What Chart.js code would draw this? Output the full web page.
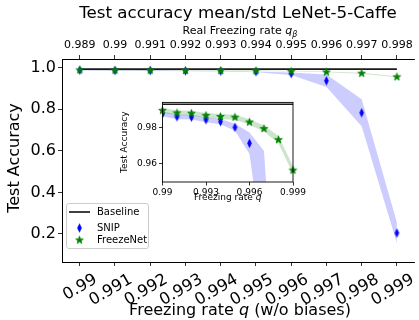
<!DOCTYPE html>
<html><head><meta charset="utf-8">
<script src="https://cdn.jsdelivr.net/npm/chart.js@4/dist/chart.umd.min.js"></script>
<style>
html,body{margin:0;padding:0;background:#fff;}
#wrap{position:relative;width:419px;height:320px;overflow:hidden;background:#fff;}
#main{position:absolute;left:0;top:0;}
#inset{position:absolute;left:110px;top:95px;}
#legend{position:absolute;left:66px;top:203px;width:83px;height:46px;box-sizing:border-box;border:1px solid #cccccc;border-radius:3px;background:rgba(255,255,255,0.8);font-family:"DejaVu Sans";font-size:10px;color:#000;}
#legend .row{position:absolute;left:0;height:14px;line-height:14px;white-space:nowrap;}
#legend canvas{position:absolute;left:1px;top:0;}
#legend span{position:absolute;left:30px;top:0;}
</style></head><body>
<div id="wrap">
<canvas id="main" width="419" height="320"></canvas>
<canvas id="inset" width="200" height="115"></canvas>
<div id="legend"></div>
</div>
<script>
// ---- data ----
const freezingRates = [0.99, 0.991, 0.992, 0.993, 0.994, 0.995, 0.996, 0.997, 0.998, 0.999];
const realFreezingRates = [0.989, 0.99, 0.991, 0.992, 0.993, 0.994, 0.995, 0.996, 0.997, 0.998];
const accuracyTicks = [0.2, 0.4, 0.6, 0.8, 1.0];
const insetRateTicks = [0.99, 0.993, 0.996, 0.999];
const insetAccuracyTicks = [0.96, 0.98];
const seriesNames = ['Baseline', 'SNIP', 'FreezeNet'];
const baselineAcc = [0.993, 0.993, 0.993, 0.993, 0.993, 0.993, 0.993, 0.993, 0.993, 0.993];
const snipMean = [0.9876, 0.9860, 0.9858, 0.9844, 0.9833, 0.9802, 0.9713, 0.937, 0.783, 0.205];
const snipStd  = [0.0013, 0.0013, 0.0013, 0.0014, 0.0015, 0.0020, 0.0060, 0.030, 0.065, 0.050];
const freezeMean = [0.9896, 0.9882, 0.9880, 0.9868, 0.9862, 0.9858, 0.9831, 0.9795, 0.9733, 0.9564];
const freezeStd  = [0.0013, 0.0013, 0.0013, 0.0013, 0.0014, 0.0014, 0.0015, 0.0017, 0.0021, 0.0022];

Chart.defaults.font.family = '"DejaVu Sans"';
Chart.defaults.color = '#000';

const snipUpper = snipMean.map((m, i) => m + snipStd[i]);
const snipLower = snipMean.map((m, i) => m - snipStd[i]);
const freezeUpper = freezeMean.map((m, i) => m + freezeStd[i]);
const freezeLower = freezeMean.map((m, i) => m - freezeStd[i]);
const pts = vals => freezingRates.map((x, i) => ({x: x, y: vals[i]}));

function diamondImg() {
  const c = document.createElement('canvas'); c.width = 7; c.height = 11;
  const g = c.getContext('2d');
  g.beginPath(); g.moveTo(3.5, 1.5); g.lineTo(5.4, 5.5); g.lineTo(3.5, 9.5); g.lineTo(1.6, 5.5); g.closePath();
  g.fillStyle = '#0000ff'; g.fill(); g.strokeStyle = '#0000ff'; g.lineWidth = 0.8; g.stroke();
  return c;
}
function starImg() {
  const c = document.createElement('canvas'); c.width = 11; c.height = 11;
  const g = c.getContext('2d');
  const cx = 5.5, cy = 5.7, R = 4.0, r = R * 0.40;
  g.beginPath();
  for (let k = 0; k < 10; k++) {
    const a = -Math.PI / 2 + k * Math.PI / 5, rad = k % 2 ? r : R;
    g.lineTo(cx + rad * Math.cos(a), cy + rad * Math.sin(a));
  }
  g.closePath(); g.fillStyle = '#008000'; g.fill(); g.strokeStyle = '#008000'; g.lineWidth = 0.8; g.stroke();
  return c;
}
const diamond = diamondImg(), star = starImg();

function makeDatasets() {
  const band = {borderColor: 'transparent', borderWidth: 0, pointRadius: 0, tension: 0};
  return [
    Object.assign({label: 'SNIP std+', data: pts(snipUpper), fill: '+1', backgroundColor: 'rgba(0,0,255,0.2)', order: 6}, band),
    Object.assign({label: 'SNIP std-', data: pts(snipLower), fill: false, order: 6}, band),
    Object.assign({label: 'FreezeNet std+', data: pts(freezeUpper), fill: '+1', backgroundColor: 'rgba(0,128,0,0.2)', order: 5}, band),
    Object.assign({label: 'FreezeNet std-', data: pts(freezeLower), fill: false, order: 5}, band),
    {label: seriesNames[0], data: pts(baselineAcc), borderColor: '#1a1a1a', borderWidth: 1.6, pointRadius: 0, fill: false, order: 3},
    {label: seriesNames[1], data: pts(snipMean), showLine: false, pointStyle: diamond, pointRadius: 4, order: 2},
    {label: seriesNames[2], data: pts(freezeMean), showLine: false, pointStyle: star, pointRadius: 4, clip: false, order: 1}
  ];
}

function drawParts(ctx, parts, cx, cy, rot) {
  ctx.save();
  ctx.translate(cx, cy); if (rot) ctx.rotate(rot);
  ctx.textBaseline = 'middle'; ctx.fillStyle = '#000';
  let total = 0;
  parts.forEach(p => { ctx.font = p.font; p.w = ctx.measureText(p.t).width; total += p.w; });
  let x = -total / 2;
  parts.forEach(p => { ctx.font = p.font; ctx.textAlign = 'left'; ctx.fillText(p.t, x, p.dy || 0); x += p.w; });
  ctx.restore();
}

const tickGrid = {drawOnChartArea: false, drawTicks: true, tickLength: 4, color: '#000', lineWidth: 0.8};
const axisBorder = {display: true, color: '#000', width: 1};

const mainText = {
  id: 'mainText',
  afterDraw(chart) {
    const ctx = chart.ctx;
    const F = s => s + 'px "DejaVu Sans"', I = s => 'italic ' + s + 'px "DejaVu Sans"';
    drawParts(ctx, [{t: 'Test Accuracy', font: F(16)}], 14.5, 158, -Math.PI / 2);
    drawParts(ctx, [{t: 'Freezing rate ', font: F(16)}, {t: 'q', font: I(16)}, {t: ' (w/o biases)', font: F(16)}], 240, 310.5);
    drawParts(ctx, [{t: 'Real Freezing rate ', font: F(11)}, {t: 'q', font: I(11)}, {t: 'β', font: I(8), dy: 3}], 240, 31.5);
  }
};

new Chart(document.getElementById('main'), {
  type: 'line',
  data: {datasets: makeDatasets()},
  options: {
    responsive: false, animation: false, devicePixelRatio: 1,
    layout: {padding: 0},
    plugins: {
      legend: {display: false}, tooltip: {enabled: false},
      title: {display: true, text: 'Test accuracy mean/std LeNet-5-Caffe', fullSize: false,
              font: {size: 16.7, weight: 'normal'}, color: '#000', padding: {top: 3.5, bottom: 0}}
    },
    scales: {
      x: {type: 'linear', position: 'bottom', min: 0.989496, max: 0.999485,
          afterBuildTicks: s => { s.ticks = freezingRates.map(v => ({value: v})); },
          afterFit: s => { s.height = 58; },
          ticks: {font: {size: 16.3}, minRotation: 30, maxRotation: 30, labelOffset: 16, padding: 4, autoSkip: false,
                  callback: v => String(v)},
          grid: tickGrid, border: axisBorder},
      x2: {type: 'linear', position: 'top', min: 0.988496, max: 0.998485,
           afterBuildTicks: s => { s.ticks = realFreezingRates.map(v => ({value: v})); },
           afterFit: s => { s.height = 59 - 3.5 - 16.7 * 1.2; },
           ticks: {font: {size: 11}, maxRotation: 0, minRotation: 0, padding: 3, autoSkip: false,
                   callback: v => String(v)},
           grid: tickGrid, border: axisBorder},
      y: {type: 'linear', position: 'left', min: 0.0653, max: 1.0418,
          afterBuildTicks: s => { s.ticks = accuracyTicks.map(v => ({value: v})); },
          afterFit: s => { s.width = 62; },
          ticks: {font: {size: 16}, padding: 2, callback: v => v.toFixed(1)},
          grid: tickGrid, border: axisBorder}
    }
  },
  plugins: [mainText]
});

const insetDeco = {
  id: 'insetDeco',
  beforeDraw(chart) {
    const a = chart.chartArea, ctx = chart.ctx;
    ctx.save(); ctx.fillStyle = '#fff'; ctx.fillRect(a.left, a.top, a.right - a.left, a.bottom - a.top); ctx.restore();
  },
  afterDraw(chart) {
    const a = chart.chartArea, ctx = chart.ctx;
    ctx.save(); ctx.strokeStyle = '#000'; ctx.lineWidth = 0.9;
    ctx.strokeRect(a.left, a.top, a.right - a.left, a.bottom - a.top); ctx.restore();
    drawParts(ctx, [{t: 'Freezing rate ', font: '9px "DejaVu Sans"'}, {t: 'q', font: 'italic 9px "DejaVu Sans"'}], (a.left + a.right) / 2, 102.5);
    drawParts(ctx, [{t: 'Test Accuracy', font: '9px "DejaVu Sans"'}], 15, (a.top + a.bottom) / 2, -Math.PI / 2);
  }
};
const insetGrid = {drawOnChartArea: false, drawTicks: true, tickLength: 3.5, color: '#000', lineWidth: 0.8};
const insetSets = makeDatasets();
new Chart(document.getElementById('inset'), {
  type: 'line',
  data: {datasets: insetSets},
  options: {
    responsive: false, animation: false, devicePixelRatio: 1,
    layout: {padding: {top: 6, right: 17, left: 0, bottom: 0}},
    plugins: {legend: {display: false}, tooltip: {enabled: false}, title: {display: false}},
    scales: {
      x: {type: 'linear', min: 0.99, max: 0.999,
          afterBuildTicks: s => { s.ticks = insetRateTicks.map(v => ({value: v})); },
          afterFit: s => { s.height = 28; },
          ticks: {font: {size: 9}, maxRotation: 0, minRotation: 0, padding: 1.5, autoSkip: false, callback: v => String(v)},
          grid: insetGrid, border: {display: false}},
      y: {type: 'linear', min: 0.9498, max: 0.9940,
          afterBuildTicks: s => { s.ticks = insetAccuracyTicks.map(v => ({value: v})); },
          afterFit: s => { s.width = 52.5; },
          ticks: {font: {size: 9}, padding: 2, callback: v => v.toFixed(2)},
          grid: insetGrid, border: {display: false}}
    }
  },
  plugins: [insetDeco]
});

// legend (HTML)
const legendSymbols = [
  g => { g.strokeStyle = '#000'; g.lineWidth = 1.5; g.beginPath(); g.moveTo(1, 7); g.lineTo(22, 7); g.stroke(); },
  g => { g.drawImage(diamond, 11.5 - 3.5, 7 - 5.5); },
  g => { g.drawImage(star, 11.5 - 5.5, 7 - 5.5); }
];
const rowTops = [1, 16.5, 29];
const leg = document.getElementById('legend');
seriesNames.forEach((name, i) => {
  const row = document.createElement('div'); row.className = 'row'; row.style.top = rowTops[i] + 'px';
  const c = document.createElement('canvas'); c.width = 24; c.height = 14;
  legendSymbols[i](c.getContext('2d'));
  const s = document.createElement('span'); s.textContent = name;
  row.appendChild(c); row.appendChild(s); leg.appendChild(row);
});
</script>
</body></html>
